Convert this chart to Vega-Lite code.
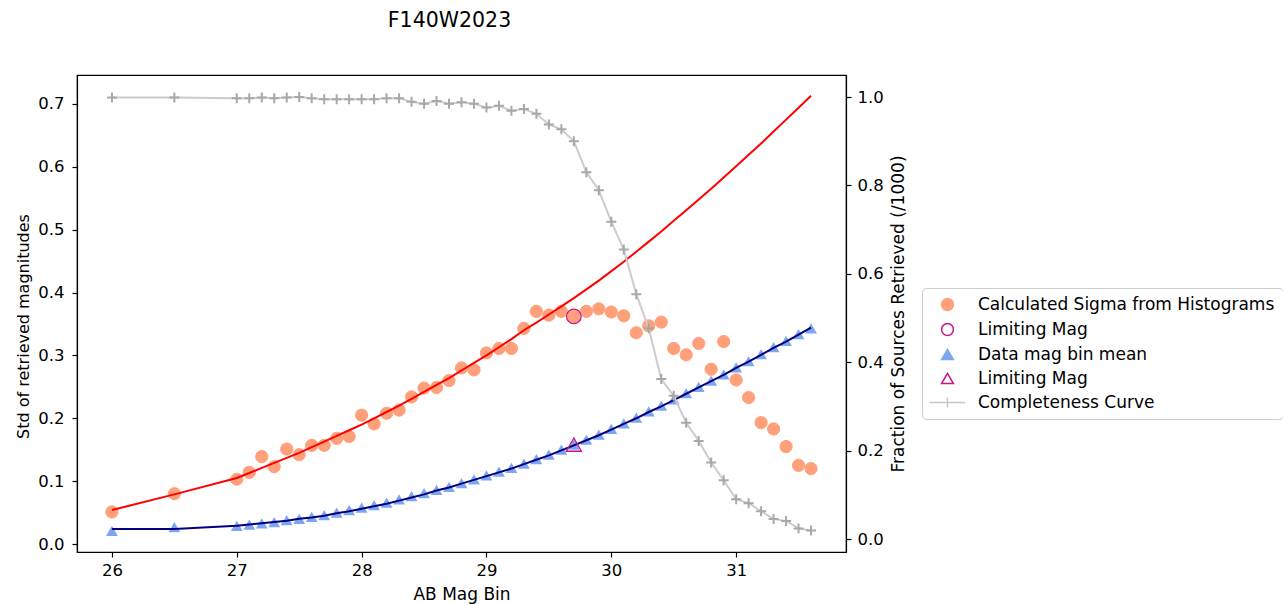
{
  "$schema": "https://vega.github.io/schema/vega-lite/v6.json",
  "width": 769,
  "height": 477,
  "autosize": {"type": "none"},
  "padding": {"left": 77, "top": 75, "right": 437, "bottom": 52},
  "background": "white",
  "title": {"text": "F140W2023", "fontSize": 20.5, "font": "DejaVu Sans", "fontWeight": "normal", "anchor": "middle", "dx": -12, "offset": 44, "color": "black"},
  "config": {
    "view": {"stroke": "black", "strokeWidth": 1.2},
    "font": "DejaVu Sans",
    "axis": {"grid": false, "domainColor": "black", "tickColor": "black", "labelColor": "black", "titleColor": "black", "labelFontSize": 16.5, "titleFontSize": 17, "titleFontWeight": "normal", "tickSize": 5, "domainWidth": 1.2, "tickWidth": 1.2, "labelFont": "DejaVu Sans", "titleFont": "DejaVu Sans"}
  },
  "datasets": {
    "bins": [
      {"mag": 26.0, "sigma": 0.051, "sigma_fit": 0.054, "mean": 0.021, "mean_fit": 0.024, "completeness": 0.999},
      {"mag": 26.5, "sigma": 0.080, "sigma_fit": 0.079, "mean": 0.027, "mean_fit": 0.024, "completeness": 0.999},
      {"mag": 27.0, "sigma": 0.103, "sigma_fit": 0.105, "mean": 0.029, "mean_fit": 0.029, "completeness": 0.997},
      {"mag": 27.1, "sigma": 0.114, "sigma_fit": 0.113, "mean": 0.031, "mean_fit": 0.031, "completeness": 0.997},
      {"mag": 27.2, "sigma": 0.139, "sigma_fit": 0.121, "mean": 0.033, "mean_fit": 0.033, "completeness": 0.999},
      {"mag": 27.3, "sigma": 0.123, "sigma_fit": 0.129, "mean": 0.035, "mean_fit": 0.035, "completeness": 0.997},
      {"mag": 27.4, "sigma": 0.151, "sigma_fit": 0.137, "mean": 0.038, "mean_fit": 0.037, "completeness": 0.999},
      {"mag": 27.5, "sigma": 0.142, "sigma_fit": 0.145, "mean": 0.040, "mean_fit": 0.040, "completeness": 1.000},
      {"mag": 27.6, "sigma": 0.157, "sigma_fit": 0.154, "mean": 0.043, "mean_fit": 0.042, "completeness": 0.997},
      {"mag": 27.7, "sigma": 0.157, "sigma_fit": 0.163, "mean": 0.046, "mean_fit": 0.045, "completeness": 0.995},
      {"mag": 27.8, "sigma": 0.168, "sigma_fit": 0.172, "mean": 0.050, "mean_fit": 0.049, "completeness": 0.995},
      {"mag": 27.9, "sigma": 0.171, "sigma_fit": 0.181, "mean": 0.054, "mean_fit": 0.052, "completeness": 0.995},
      {"mag": 28.0, "sigma": 0.205, "sigma_fit": 0.190, "mean": 0.058, "mean_fit": 0.056, "completeness": 0.995},
      {"mag": 28.1, "sigma": 0.191, "sigma_fit": 0.200, "mean": 0.062, "mean_fit": 0.060, "completeness": 0.995},
      {"mag": 28.2, "sigma": 0.208, "sigma_fit": 0.210, "mean": 0.066, "mean_fit": 0.064, "completeness": 0.997},
      {"mag": 28.3, "sigma": 0.213, "sigma_fit": 0.220, "mean": 0.071, "mean_fit": 0.069, "completeness": 0.997},
      {"mag": 28.4, "sigma": 0.234, "sigma_fit": 0.231, "mean": 0.076, "mean_fit": 0.074, "completeness": 0.989},
      {"mag": 28.5, "sigma": 0.248, "sigma_fit": 0.242, "mean": 0.081, "mean_fit": 0.079, "completeness": 0.985},
      {"mag": 28.6, "sigma": 0.249, "sigma_fit": 0.253, "mean": 0.086, "mean_fit": 0.085, "completeness": 0.991},
      {"mag": 28.7, "sigma": 0.260, "sigma_fit": 0.264, "mean": 0.091, "mean_fit": 0.090, "completeness": 0.985},
      {"mag": 28.8, "sigma": 0.280, "sigma_fit": 0.276, "mean": 0.097, "mean_fit": 0.096, "completeness": 0.988},
      {"mag": 28.9, "sigma": 0.277, "sigma_fit": 0.288, "mean": 0.103, "mean_fit": 0.102, "completeness": 0.985},
      {"mag": 29.0, "sigma": 0.304, "sigma_fit": 0.300, "mean": 0.109, "mean_fit": 0.108, "completeness": 0.976},
      {"mag": 29.1, "sigma": 0.311, "sigma_fit": 0.313, "mean": 0.115, "mean_fit": 0.114, "completeness": 0.980},
      {"mag": 29.2, "sigma": 0.311, "sigma_fit": 0.326, "mean": 0.121, "mean_fit": 0.120, "completeness": 0.969},
      {"mag": 29.3, "sigma": 0.343, "sigma_fit": 0.340, "mean": 0.128, "mean_fit": 0.127, "completeness": 0.973},
      {"mag": 29.4, "sigma": 0.370, "sigma_fit": 0.352, "mean": 0.135, "mean_fit": 0.134, "completeness": 0.962},
      {"mag": 29.5, "sigma": 0.364, "sigma_fit": 0.365, "mean": 0.142, "mean_fit": 0.141, "completeness": 0.938},
      {"mag": 29.6, "sigma": 0.370, "sigma_fit": 0.378, "mean": 0.150, "mean_fit": 0.149, "completeness": 0.927},
      {"mag": 29.7, "sigma": 0.362, "sigma_fit": 0.391, "mean": 0.158, "mean_fit": 0.157, "completeness": 0.900},
      {"mag": 29.8, "sigma": 0.370, "sigma_fit": 0.405, "mean": 0.166, "mean_fit": 0.165, "completeness": 0.830},
      {"mag": 29.9, "sigma": 0.374, "sigma_fit": 0.419, "mean": 0.174, "mean_fit": 0.173, "completeness": 0.789},
      {"mag": 30.0, "sigma": 0.369, "sigma_fit": 0.434, "mean": 0.183, "mean_fit": 0.182, "completeness": 0.718},
      {"mag": 30.1, "sigma": 0.363, "sigma_fit": 0.449, "mean": 0.192, "mean_fit": 0.191, "completeness": 0.655},
      {"mag": 30.2, "sigma": 0.336, "sigma_fit": 0.465, "mean": 0.201, "mean_fit": 0.200, "completeness": 0.554},
      {"mag": 30.3, "sigma": 0.347, "sigma_fit": 0.481, "mean": 0.211, "mean_fit": 0.210, "completeness": 0.477},
      {"mag": 30.4, "sigma": 0.353, "sigma_fit": 0.497, "mean": 0.220, "mean_fit": 0.219, "completeness": 0.362},
      {"mag": 30.5, "sigma": 0.311, "sigma_fit": 0.514, "mean": 0.230, "mean_fit": 0.229, "completeness": 0.324},
      {"mag": 30.6, "sigma": 0.301, "sigma_fit": 0.531, "mean": 0.240, "mean_fit": 0.239, "completeness": 0.263},
      {"mag": 30.7, "sigma": 0.319, "sigma_fit": 0.548, "mean": 0.250, "mean_fit": 0.249, "completeness": 0.222},
      {"mag": 30.8, "sigma": 0.278, "sigma_fit": 0.565, "mean": 0.260, "mean_fit": 0.259, "completeness": 0.173},
      {"mag": 30.9, "sigma": 0.322, "sigma_fit": 0.583, "mean": 0.270, "mean_fit": 0.269, "completeness": 0.133},
      {"mag": 31.0, "sigma": 0.261, "sigma_fit": 0.601, "mean": 0.281, "mean_fit": 0.280, "completeness": 0.090},
      {"mag": 31.1, "sigma": 0.233, "sigma_fit": 0.619, "mean": 0.291, "mean_fit": 0.290, "completeness": 0.081},
      {"mag": 31.2, "sigma": 0.193, "sigma_fit": 0.637, "mean": 0.302, "mean_fit": 0.301, "completeness": 0.063},
      {"mag": 31.3, "sigma": 0.183, "sigma_fit": 0.656, "mean": 0.313, "mean_fit": 0.312, "completeness": 0.045},
      {"mag": 31.4, "sigma": 0.155, "sigma_fit": 0.675, "mean": 0.323, "mean_fit": 0.322, "completeness": 0.041},
      {"mag": 31.5, "sigma": 0.125, "sigma_fit": 0.694, "mean": 0.334, "mean_fit": 0.333, "completeness": 0.024},
      {"mag": 31.6, "sigma": 0.120, "sigma_fit": 0.713, "mean": 0.343, "mean_fit": 0.344, "completeness": 0.019}
    ],
    "limits": [
      {"mag": 29.7, "sigma": 0.362, "mean": 0.158}
    ]
  },
  "data": {"name": "bins"},
  "encoding": {
    "x": {"field": "mag", "type": "quantitative", "scale": {"domain": [25.72, 31.88], "nice": false, "zero": false}, "axis": {"title": "AB Mag Bin", "values": [26, 27, 28, 29, 30, 31], "format": "d", "labelPadding": 5, "titlePadding": 8}}
  },
  "layer": [
    {
      "layer": [
        {
          "mark": {"type": "point", "filled": true, "size": 150, "strokeWidth": 1, "opacity": 1},
          "encoding": {
            "y": {"field": "sigma", "type": "quantitative", "scale": {"domain": [-0.0127, 0.746], "nice": false, "zero": false}, "axis": {"title": "Std of retrieved magnitudes", "titleFontSize": 16, "titleY": 251, "values": [0, 0.1, 0.2, 0.3, 0.4, 0.5, 0.6, 0.7], "format": ".1f", "labelPadding": 8, "titlePadding": 6}},
            "fill": {"datum": "Calculated Sigma from Histograms", "type": "nominal",
              "scale": {"domain": ["Calculated Sigma from Histograms", "Limiting Mag (sigma)", "Data mag bin mean", "Limiting Mag (mean)", "Completeness Curve"], "range": ["#FFA07A", "transparent", "#7ea6ef", "transparent", "transparent"]},
              "legend": {"title": null, "orient": "none", "legendX": 845, "legendY": 213, "labelExpr": "indexof(datum.label, 'Limiting Mag') == 0 ? 'Limiting Mag' : datum.label", "symbolSize": 140, "symbolStrokeWidth": 1.5, "symbolOffset": 9, "labelOffset": 22, "rowPadding": 6, "padding": 8, "strokeColor": "#cccccc", "fillColor": "white", "cornerRadius": 4, "labelFontSize": 17, "labelLimit": 400, "labelColor": "black", "labelFont": "DejaVu Sans"}},
            "stroke": {"datum": "Calculated Sigma from Histograms", "type": "nominal",
              "scale": {"domain": ["Calculated Sigma from Histograms", "Limiting Mag (sigma)", "Data mag bin mean", "Limiting Mag (mean)", "Completeness Curve"], "range": ["#FFA07A", "#C71585", "#7ea6ef", "#C71585", "#c8c8c8"]},
              "legend": {"title": null, "orient": "none", "legendX": 845, "legendY": 213, "labelExpr": "indexof(datum.label, 'Limiting Mag') == 0 ? 'Limiting Mag' : datum.label", "symbolSize": 140, "symbolStrokeWidth": 1.5, "symbolOffset": 9, "labelOffset": 22, "rowPadding": 6, "padding": 8, "strokeColor": "#cccccc", "fillColor": "white", "cornerRadius": 4, "labelFontSize": 17, "labelLimit": 400, "labelColor": "black", "labelFont": "DejaVu Sans"}},
            "shape": {"datum": "Calculated Sigma from Histograms", "type": "nominal",
              "scale": {"domain": ["Calculated Sigma from Histograms", "Limiting Mag (sigma)", "Data mag bin mean", "Limiting Mag (mean)", "Completeness Curve"], "range": ["circle", "circle", "triangle-up", "triangle-up", "M-3,0H3M0,-0.85V0.85"]},
              "legend": {"title": null, "orient": "none", "legendX": 845, "legendY": 213, "labelExpr": "indexof(datum.label, 'Limiting Mag') == 0 ? 'Limiting Mag' : datum.label", "symbolSize": 140, "symbolStrokeWidth": 1.5, "symbolOffset": 9, "labelOffset": 22, "rowPadding": 6, "padding": 8, "strokeColor": "#cccccc", "fillColor": "white", "cornerRadius": 4, "labelFontSize": 17, "labelLimit": 400, "labelColor": "black", "labelFont": "DejaVu Sans"}}
          }
        },
        {
          "mark": {"type": "line", "color": "red", "strokeWidth": 2},
          "encoding": {
            "y": {"field": "sigma_fit", "type": "quantitative", "scale": {"domain": [-0.0127, 0.746], "nice": false, "zero": false}, "axis": {"title": "Std of retrieved magnitudes", "titleFontSize": 16, "titleY": 251, "values": [0, 0.1, 0.2, 0.3, 0.4, 0.5, 0.6, 0.7], "format": ".1f", "labelPadding": 8, "titlePadding": 6}}
          }
        },
        {
          "data": {"name": "limits"},
          "mark": {"type": "point", "filled": false, "shape": "circle", "size": 210, "stroke": "#C71585", "strokeWidth": 1.3, "opacity": 1},
          "encoding": {
            "y": {"field": "sigma", "type": "quantitative", "scale": {"domain": [-0.0127, 0.746], "nice": false, "zero": false}, "axis": {"title": "Std of retrieved magnitudes", "titleFontSize": 16, "titleY": 251, "values": [0, 0.1, 0.2, 0.3, 0.4, 0.5, 0.6, 0.7], "format": ".1f", "labelPadding": 8, "titlePadding": 6}}
          }
        },
        {
          "mark": {"type": "point", "filled": true, "shape": "triangle-up", "size": 140, "color": "#7ea6ef", "opacity": 1},
          "encoding": {
            "y": {"field": "mean", "type": "quantitative", "scale": {"domain": [-0.0127, 0.746], "nice": false, "zero": false}, "axis": {"title": "Std of retrieved magnitudes", "titleFontSize": 16, "titleY": 251, "values": [0, 0.1, 0.2, 0.3, 0.4, 0.5, 0.6, 0.7], "format": ".1f", "labelPadding": 8, "titlePadding": 6}}
          }
        },
        {
          "mark": {"type": "line", "color": "navy", "strokeWidth": 2},
          "encoding": {
            "y": {"field": "mean_fit", "type": "quantitative", "scale": {"domain": [-0.0127, 0.746], "nice": false, "zero": false}, "axis": {"title": "Std of retrieved magnitudes", "titleFontSize": 16, "titleY": 251, "values": [0, 0.1, 0.2, 0.3, 0.4, 0.5, 0.6, 0.7], "format": ".1f", "labelPadding": 8, "titlePadding": 6}}
          }
        },
        {
          "data": {"name": "limits"},
          "mark": {"type": "point", "filled": false, "shape": "triangle-up", "size": 230, "stroke": "#C71585", "strokeWidth": 1.3, "opacity": 1},
          "encoding": {
            "y": {"field": "mean", "type": "quantitative", "scale": {"domain": [-0.0127, 0.746], "nice": false, "zero": false}, "axis": {"title": "Std of retrieved magnitudes", "titleFontSize": 16, "titleY": 251, "values": [0, 0.1, 0.2, 0.3, 0.4, 0.5, 0.6, 0.7], "format": ".1f", "labelPadding": 8, "titlePadding": 6}}
          }
        }
      ]
    },
    {
      "layer": [
        {
          "mark": {"type": "line", "color": "#cccccc", "strokeWidth": 2},
          "encoding": {
            "y": {"field": "completeness", "type": "quantitative", "scale": {"domain": [-0.0294, 1.0498], "nice": false, "zero": false}, "axis": {"orient": "right", "title": "Fraction of Sources Retrieved (/1000)", "titleAngle": 270, "values": [0, 0.2, 0.4, 0.6, 0.8, 1.0], "format": ".1f", "labelPadding": 6, "titlePadding": 24}}
          }
        },
        {
          "mark": {"type": "point", "shape": "M-1,0H1M0,-1V1", "filled": false, "size": 100, "stroke": "#a8a8a8", "strokeWidth": 2, "opacity": 1},
          "encoding": {
            "y": {"field": "completeness", "type": "quantitative", "scale": {"domain": [-0.0294, 1.0498], "nice": false, "zero": false}, "axis": {"orient": "right", "title": "Fraction of Sources Retrieved (/1000)", "titleAngle": 270, "values": [0, 0.2, 0.4, 0.6, 0.8, 1.0], "format": ".1f", "labelPadding": 6, "titlePadding": 24}}
          }
        }
      ]
    }
  ],
  "resolve": {"scale": {"y": "independent"}}
}
